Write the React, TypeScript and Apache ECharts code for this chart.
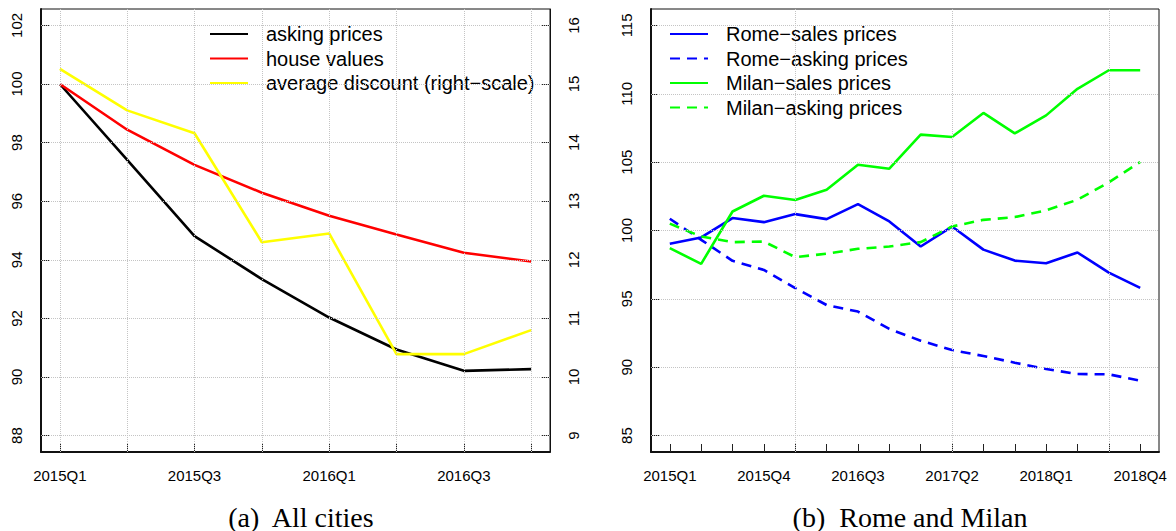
import React, { useEffect, useRef } from "react";
import * as echarts from "echarts";

// ---------- data ----------
const leftQuarters = ["2015Q1", "2015Q2", "2015Q3", "2015Q4", "2016Q1", "2016Q2", "2016Q3", "2016Q4"];
const askingPrices = [100, 97.41, 94.81, 93.34, 92.03, 90.94, 90.21, 90.27];
const houseValues = [100, 98.44, 97.24, 96.29, 95.5, 94.86, 94.24, 93.94];
const averageDiscount = [15.26, 14.55, 14.16, 12.3, 12.45, 10.39, 10.39, 10.8];

const rightQuarters = [
  "2015Q1", "2015Q2", "2015Q3", "2015Q4",
  "2016Q1", "2016Q2", "2016Q3", "2016Q4",
  "2017Q1", "2017Q2", "2017Q3", "2017Q4",
  "2018Q1", "2018Q2", "2018Q3", "2018Q4",
];
const romeSales = [99.03, 99.49, 100.91, 100.61, 101.2, 100.83, 101.93, 100.66, 98.83, 100.29, 98.6, 97.8, 97.61, 98.39, 96.92, 95.8];
const romeAsking = [100.86, 99.32, 97.78, 97.12, 95.78, 94.55, 94.07, 92.8, 91.94, 91.26, 90.82, 90.33, 89.87, 89.5, 89.48, 89.01];
const milanSales = [98.71, 97.56, 101.39, 102.54, 102.23, 102.98, 104.81, 104.52, 107.01, 106.84, 108.6, 107.1, 108.42, 110.36, 111.72, 111.72];
const milanAsking = [100.5, 99.56, 99.15, 99.19, 98.05, 98.3, 98.66, 98.83, 99.15, 100.29, 100.78, 100.98, 101.47, 102.25, 103.52, 105.01];

const leftYTicks = [88, 90, 92, 94, 96, 98, 100, 102];
const discountTicks = [9, 10, 11, 12, 13, 14, 15, 16];
const rightYTicks = [85, 90, 95, 100, 105, 110, 115];
const leftXTicks = [0, 1, 2, 3, 4, 5, 6, 7];
const leftXLabels = [0, 2, 4, 6];
const rightXTicks = [0, 1, 2, 3, 4, 5, 6, 7, 8, 9, 10, 11, 12, 13, 14, 15];
const rightXLabels = [0, 3, 6, 9, 12, 15];
const rightXGrid = [4, 9, 14];

const leftNames = ["asking prices", "house values", "average discount (right\u2212scale)"];
const rightNames = ["Rome\u2212sales prices", "Rome\u2212asking prices", "Milan\u2212sales prices", "Milan\u2212asking prices"];

const pts = (arr: number[]) => arr.map((v, i) => [i, v]);

const SANS = "'Liberation Sans', Arial, Helvetica, sans-serif";

function xAxisDef(grid: number, min: number, max: number, ticks: number[], labels: number[], names: string[]) {
  return {
    gridIndex: grid,
    type: "value",
    min,
    max,
    axisLine: { show: true, onZero: false, lineStyle: { color: "#111", width: 2 } },
    axisTick: { show: true, inside: true, length: 8, customValues: ticks, lineStyle: { color: "#222", width: 1 } },
    axisLabel: {
      show: true,
      customValues: labels,
      formatter: (v: number) => names[Math.round(v)] ?? "",
      fontSize: 15,
      fontFamily: SANS,
      color: "#000",
      margin: 16,
    },
    splitLine: { show: false },
  };
}

function yAxisDef(grid: number, pos: string, min: number, max: number, ticks: number[], width: number, margin: number) {
  return {
    gridIndex: grid,
    type: "value",
    position: pos,
    min,
    max,
    axisLine: { show: true, onZero: false, lineStyle: { color: "#111", width } },
    axisTick: { show: true, inside: true, length: 8, customValues: ticks, lineStyle: { color: "#222", width: 1 } },
    axisLabel: {
      show: true,
      customValues: ticks,
      rotate: 90,
      fontSize: 15,
      fontFamily: SANS,
      color: "#000",
      margin,
    },
    splitLine: { show: false },
  };
}

const gridLineStyle = { type: "dotted", color: "#c4c4c4", width: 1 };

function lineSeries(name: string, data: number[], color: string, xi: number, yi: number, dashed = false) {
  return {
    type: "line",
    name,
    xAxisIndex: xi,
    yAxisIndex: yi,
    data: pts(data),
    symbol: "none",
    showSymbol: false,
    z: 3,
    lineStyle: { color, width: 2.6, type: dashed ? [10, 7] : "solid", cap: "butt" },
    itemStyle: { color },
    emphasis: { disabled: true },
  };
}

function legendDef(names: string[], left: number, top: number, padding: number[]) {
  return {
    data: names,
    orient: "vertical",
    left,
    top,
    padding,
    backgroundColor: "#ffffff",
    borderWidth: 0,
    itemWidth: 38,
    itemHeight: 14,
    itemGap: 4.5,
    selectedMode: false,
    itemStyle: { opacity: 0, borderWidth: 0 },
    lineStyle: { width: 2 },
    textStyle: { fontSize: 20, fontFamily: SANS, color: "#000", padding: [0, 0, 0, 13] },
  };
}

export default function App() {
  const ref = useRef<HTMLDivElement>(null);

  useEffect(() => {
    document.body.style.margin = "0";
    if (!ref.current) return;
    const chart = echarts.init(ref.current, undefined, { renderer: "svg" });

    const captionStyle = {
      fontSize: 28,
      fontFamily: "'Liberation Serif', 'Times New Roman', serif",
      fill: "#000",
      align: "center",
      verticalAlign: "middle",
      textAlign: "center",
      textVerticalAlign: "middle",
    };

    const option: any = {
      animation: false,
      backgroundColor: "#fff",
      textStyle: { fontFamily: SANS },
      grid: [
        { left: 41, top: 9, width: 509, height: 443, show: true, borderColor: "#111", borderWidth: 1, backgroundColor: "transparent", containLabel: false, outerBoundsMode: "none" },
        { left: 651, top: 9, width: 508, height: 443, show: true, borderColor: "#111", borderWidth: 1, backgroundColor: "transparent", containLabel: false, outerBoundsMode: "none" },
      ],
      xAxis: [
        xAxisDef(0, -0.28, 7.28, leftXTicks, leftXLabels, leftQuarters),
        xAxisDef(1, -0.6, 15.6, rightXTicks, rightXLabels, rightQuarters),
      ],
      yAxis: [
        yAxisDef(0, "left", 87.44, 102.56, leftYTicks, 2, 17),
        yAxisDef(0, "right", 8.72, 16.28, discountTicks, 1, 16),
        yAxisDef(1, "left", 83.8, 116.2, rightYTicks, 2, 17),
      ],
      legend: [
        legendDef(leftNames, 200, 12, [12, 7, 5, 9]),
        legendDef(rightNames, 657, 12, [12, 6, 5, 12]),
      ],
      series: [
        {
          type: "line",
          name: "_gridA",
          xAxisIndex: 0,
          yAxisIndex: 0,
          data: [],
          z: 1,
          silent: true,
          markLine: {
            silent: true,
            animation: false,
            symbol: "none",
            label: { show: false },
            emphasis: { disabled: true },
            lineStyle: gridLineStyle,
            data: [...leftYTicks.map((v) => ({ yAxis: v })), ...leftXTicks.map((v) => ({ xAxis: v }))],
          },
        },
        {
          type: "line",
          name: "_gridB",
          xAxisIndex: 1,
          yAxisIndex: 2,
          data: [],
          z: 1,
          silent: true,
          markLine: {
            silent: true,
            animation: false,
            symbol: "none",
            label: { show: false },
            emphasis: { disabled: true },
            lineStyle: gridLineStyle,
            data: [...rightYTicks.map((v) => ({ yAxis: v })), ...rightXGrid.map((v) => ({ xAxis: v }))],
          },
        },
        lineSeries(leftNames[0], askingPrices, "#000000", 0, 0),
        lineSeries(leftNames[1], houseValues, "#ff0000", 0, 0),
        lineSeries(leftNames[2], averageDiscount, "#ffff00", 0, 1),
        lineSeries(rightNames[0], romeSales, "#0000ff", 1, 2),
        lineSeries(rightNames[1], romeAsking, "#0000ff", 1, 2, true),
        lineSeries(rightNames[2], milanSales, "#00ff00", 1, 2),
        lineSeries(rightNames[3], milanAsking, "#00ff00", 1, 2, true),
      ],
      graphic: [
        { type: "text", x: 301, y: 517, silent: true, style: { text: "(a)  All cities", ...captionStyle } },
        { type: "text", x: 910, y: 517, silent: true, style: { text: "(b)  Rome and Milan", ...captionStyle } },
      ],
    };

    chart.setOption(option);
    return () => {
      chart.dispose();
    };
  }, []);

  return <div ref={ref} style={{ width: 1176, height: 531 }} />;
}
